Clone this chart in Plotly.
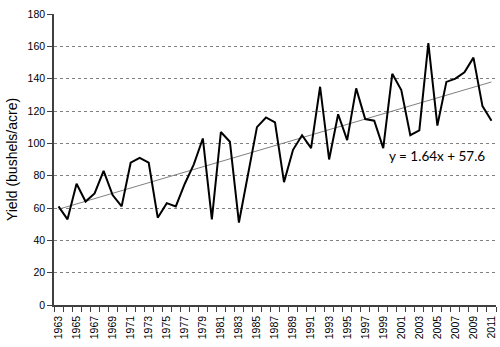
import plotly.graph_objects as go

years = list(range(1963, 2012))
yield_bu = [61, 53, 75, 64, 69, 83, 68, 61, 88, 91, 88, 54, 63, 61, 75, 87,
            103, 53, 107, 101, 51, 80, 110, 116, 113, 76, 96, 105, 97, 135,
            90, 118, 102, 134, 115, 114, 97, 143, 133, 105, 108, 162, 111,
            138, 140, 144, 153, 123, 114]
trend_slope = 1.64
trend_intercept = 57.6
y_ticks = [0, 20, 40, 60, 80, 100, 120, 140, 160, 180]
x_label_years = years[::2]
equation_text = "y = 1.64x + 57.6"

trend_y = [trend_slope * (i + 1) + trend_intercept for i in range(len(years))]
boundaries = [y - 0.5 for y in years] + [years[-1] + 0.5]

fig = go.Figure()
fig.add_trace(go.Scatter(x=years, y=trend_y, mode="lines",
                         line=dict(color="#808080", width=1), hoverinfo="skip"))
fig.add_trace(go.Scatter(x=years, y=yield_bu, mode="lines",
                         line=dict(color="#000000", width=2)))

fig.add_annotation(x=2005.0, y=92, xref="x", yref="y", text=equation_text,
                   showarrow=False, font=dict(family="Lato", size=13.5, color="#000"))

axis_font = dict(family="Liberation Sans", size=10.5, color="#000")
fig.update_layout(
    width=500, height=347,
    margin=dict(l=54, r=4, t=14, b=42),
    paper_bgcolor="white", plot_bgcolor="white",
    showlegend=False,
    xaxis=dict(
        range=[years[0] - 0.5, years[-1] + 0.5],
        tickmode="array", tickvals=x_label_years,
        ticktext=[str(y) for y in x_label_years],
        tickangle=-90, tickfont=axis_font,
        ticks="outside", ticklen=5, tickcolor="rgba(0,0,0,0)",
        showline=True, linecolor="#404040", linewidth=1.5,
        showgrid=False, zeroline=False,
        minor=dict(tickmode="array", tickvals=boundaries, ticks="outside",
                   ticklen=5, tickcolor="#404040", tickwidth=1, showgrid=False),
    ),
    yaxis=dict(
        range=[0, 180], tickmode="array", tickvals=y_ticks,
        tickfont=axis_font,
        ticks="outside", ticklen=5, tickcolor="#404040",
        showline=True, linecolor="#404040", linewidth=1.5,
        showgrid=True, gridcolor="#808080", griddash="dot", gridwidth=1,
        zeroline=False,
        title=dict(text="Yield (bushels/acre)",
                   font=dict(family="Liberation Sans", size=14, color="#000"),
                   standoff=7),
    ),
)

fig.write_html("out.html")
